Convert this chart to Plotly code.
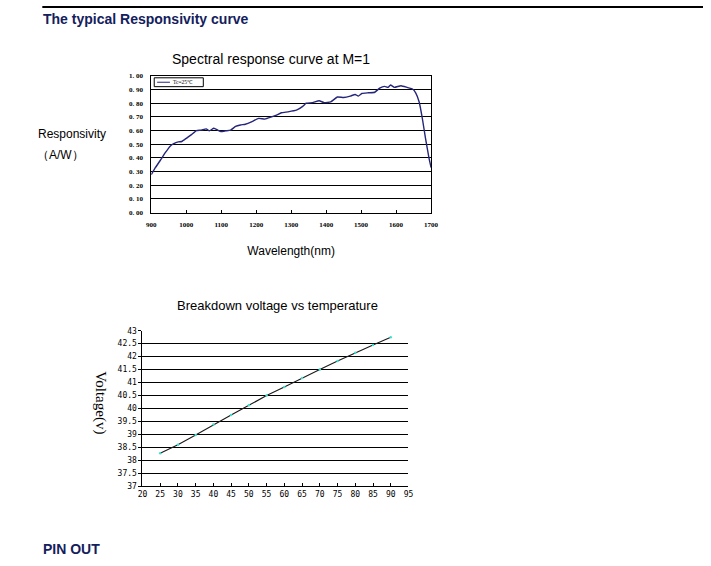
import plotly.graph_objects as go

# ---- Data: spectral response curve (M=1, Tc=25℃) ----
wavelength = [900, 912, 926, 940, 954, 963, 977, 987, 1001, 1015, 1029, 1043, 1057,
              1066, 1079, 1090, 1099, 1113, 1127, 1141, 1155, 1169, 1188, 1207, 1225,
              1244, 1258, 1272, 1291, 1315, 1333, 1343, 1361, 1380, 1394, 1413, 1432,
              1450, 1469, 1483, 1492, 1502, 1521, 1539, 1553, 1567, 1577, 1584, 1595,
              1614, 1633, 1647, 1656, 1666, 1675, 1684, 1694, 1700]
responsivity = [0.277, 0.33, 0.383, 0.438, 0.486, 0.502, 0.517, 0.52, 0.545, 0.57, 0.60,
                0.603, 0.612, 0.598, 0.617, 0.603, 0.593, 0.598, 0.603, 0.63, 0.641,
                0.646, 0.665, 0.689, 0.684, 0.70, 0.713, 0.73, 0.737, 0.749, 0.777, 0.80,
                0.804, 0.818, 0.804, 0.809, 0.845, 0.842, 0.852, 0.864, 0.852, 0.871,
                0.876, 0.88, 0.91, 0.923, 0.916, 0.933, 0.916, 0.928, 0.914, 0.904,
                0.876, 0.809, 0.689, 0.545, 0.40, 0.33]
legend_label = "Tc=25℃"

# ---- Data: breakdown voltage vs temperature ----
temperature = [25, 30, 35, 40, 45, 50, 55, 60, 65, 70, 75, 80, 85, 90]
voltage = [38.27, 38.6, 38.98, 39.38, 39.75, 40.12, 40.5, 40.83, 41.18, 41.5, 41.83,
           42.15, 42.45, 42.75]

# ---- Tick labels ----
resp_ticks = [0.0, 0.1, 0.2, 0.3, 0.4, 0.5, 0.6, 0.7, 0.8, 0.9, 1.0]
resp_tick_labels = ["0. 00", "0. 10", "0. 20", "0. 30", "0. 40", "0. 50", "0. 60",
                    "0. 70", "0. 80", "0. 90", "1. 00"]
wl_ticks = [900, 1000, 1100, 1200, 1300, 1400, 1500, 1600, 1700]
temp_ticks = [20, 25, 30, 35, 40, 45, 50, 55, 60, 65, 70, 75, 80, 85, 90, 95]
volt_ticks = [37, 37.5, 38, 38.5, 39, 39.5, 40, 40.5, 41, 41.5, 42, 42.5, 43]
volt_tick_labels = ["37", "37.5", "38", "38.5", "39", "39.5", "40", "40.5", "41",
                    "41.5", "42", "42.5", "43"]

W, H = 711, 566


def dx(a, b):
    return [a / W, b / W]


def dy(top, bottom):
    return [1 - bottom / H, 1 - top / H]


def px(x):
    return x / W


def py(y):
    return 1 - y / H


SANS = "Liberation Sans, Arial, sans-serif"
SERIF = "Liberation Serif, Times New Roman, serif"
MONO = "DejaVu Sans Mono, monospace"

fig = go.Figure()
fig.add_trace(go.Scatter(
    x=wavelength, y=responsivity, mode="lines", name=legend_label,
    line=dict(color="#25257a", width=1.4, shape="spline", smoothing=0.4),
    xaxis="x", yaxis="y", showlegend=False))
fig.add_trace(go.Scatter(
    x=temperature, y=voltage, mode="lines+markers", name="Vbr",
    line=dict(color="#1a1a1a", width=1.1),
    marker=dict(color="#3fe0d0", size=2.5),
    xaxis="x2", yaxis="y2", showlegend=False))

fig.update_layout(
    width=W, height=H,
    margin=dict(l=0, r=0, t=0, b=0),
    paper_bgcolor="white", plot_bgcolor="white",
    showlegend=False,
    xaxis=dict(domain=dx(149, 434), range=[900, 1700], tickvals=wl_ticks,
               ticktext=["<b>%d</b>" % v for v in wl_ticks],
               ticks="inside", ticklen=3, tickcolor="black",
               ticklabelstandoff=5,
               showline=True, mirror=True, linecolor="black", linewidth=1,
               showgrid=False, zeroline=False,
               tickfont=dict(family=SERIF, size=7, color="black"),
               title=dict(text="Wavelength(nm)", standoff=18,
                          font=dict(family=SANS, size=12, color="black"))),
    yaxis=dict(domain=dy(73, 212), range=[0, 1], tickvals=resp_ticks,
               ticktext=["<b>%s</b>" % t for t in resp_tick_labels], ticks="",
               ticklabelstandoff=6,
               showline=True, mirror=True, linecolor="black", linewidth=1,
               showgrid=True, gridcolor="black", gridwidth=1, zeroline=False,
               tickfont=dict(family=SERIF, size=7, color="black")),
    xaxis2=dict(domain=dx(140, 411), range=[20, 95], tickvals=temp_ticks,
                anchor="y2", ticks="inside", ticklen=3, tickcolor="black",
                showline=True, mirror=False, linecolor="black", linewidth=1,
                showgrid=False, zeroline=False,
                tickfont=dict(family=MONO, size=8, color="black")),
    yaxis2=dict(domain=dy(332, 490), range=[37, 43], tickvals=volt_ticks,
                ticktext=volt_tick_labels, anchor="x2",
                ticks="outside", ticklen=3, tickcolor="black",
                showline=True, linecolor="black", linewidth=1,
                showgrid=True, gridcolor="black", gridwidth=1, zeroline=False,
                tickfont=dict(family=MONO, size=8, color="black")),
)

# page rule
fig.add_shape(type="line", xref="paper", yref="paper",
              x0=px(38), x1=1, y0=py(3), y1=py(3),
              line=dict(color="black", width=2))

# small legend box inside the responsivity plot
fig.add_shape(type="rect", xref="paper", yref="paper",
              x0=px(152), x1=px(202), y0=py(84), y1=py(75),
              line=dict(color="black", width=1), fillcolor="white")
fig.add_shape(type="line", xref="paper", yref="paper",
              x0=px(155), x1=px(168), y0=py(79.5), y1=py(79.5),
              line=dict(color="#25257a", width=1))

annots = [
    dict(x=px(169), y=py(79.5), text=legend_label, xanchor="left",
         font=dict(family=SERIF, size=5.5, color="black")),
    dict(x=px(37), y=py(15), text="<b>The typical Responsivity curve</b>",
         xanchor="left", font=dict(family=SANS, size=14, color="#13205c")),
    dict(x=px(37), y=py(554), text="<b>PIN OUT</b>",
         xanchor="left", font=dict(family=SANS, size=14, color="#13205c")),
    dict(x=px(271), y=py(56), text="Spectral response curve at M=1",
         font=dict(family=SANS, size=14, color="black")),
    dict(x=px(68), y=py(132), text="Responsivity",
         font=dict(family=SANS, size=12, color="black")),
    dict(x=px(57), y=py(153), text="（A/W）",
         font=dict(family=SANS, size=12, color="black")),
    dict(x=px(278), y=py(306), text="Breakdown voltage vs temperature",
         font=dict(family=SANS, size=13, color="black")),
    dict(x=px(97), y=py(405), text="Voltage(v)", textangle=90,
         font=dict(family=SERIF, size=15, color="black")),
]
for a in annots:
    a.setdefault("xanchor", "center")
    fig.add_annotation(xref="paper", yref="paper", yanchor="middle",
                       showarrow=False, **a)

fig.write_html("out.html",
               config={"displayModeBar": False},
               post_script="document.body.style.margin='0px';"
                           "document.body.style.overflow='hidden';")
